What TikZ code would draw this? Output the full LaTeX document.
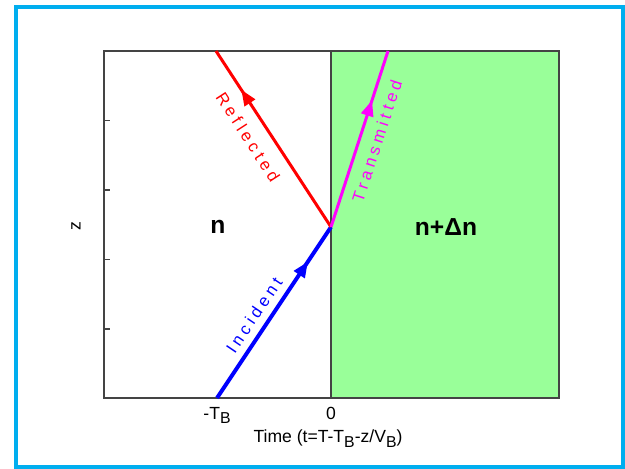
\documentclass[tikz,border=0pt]{standalone}
\usepackage{fontspec}
\setmainfont{Liberation Sans}
\newfontfamily\rayfont[LetterSpace=24]{Liberation Sans}
\usetikzlibrary{arrows.meta, decorations.markings}
\definecolor{clrFrame}{HTML}{00AEEF}
\definecolor{clrSlab}{HTML}{99FF99}
\definecolor{clrAxis}{HTML}{444444}
\definecolor{clrInc}{HTML}{0000FF}
\definecolor{clrRef}{HTML}{FF0000}
\definecolor{clrTra}{HTML}{FF00FF}
\newcommand{\lowsub}[1]{\raisebox{-0.45ex}{\small #1}}

\begin{document}
\begin{tikzpicture}[
    x=0.02cm, y=-0.02cm,
    axis/.style={draw=clrAxis, line width=1.1pt},
    midarrow/.style={postaction={decorate, decoration={markings,
        mark=at position #1 with {\arrow{Triangle[length=9pt, width=7pt]}}}}},
    ray/.style={line width=#1, line cap=butt},
    raylbl/.style={font=\rayfont\fontsize{9.5}{11}\selectfont, inner sep=0pt},
    region/.style={font=\fontsize{14}{16}\selectfont\bfseries},
    tick/.style={font=\fontsize{10}{12}\selectfont, anchor=north},
]
\useasboundingbox (0,0) rectangle (625,469);

% === Frame ===
\draw[clrFrame, line width=0.08cm] (16,7) rectangle (623,467);

% === Plot area ===
\coordinate (bl) at (104,398);
\coordinate (tr) at (559,51);
\coordinate (zb) at (331,398);
\coordinate (zt) at (331,51);
\fill[clrSlab] (zb) rectangle (tr);
\draw[axis] (bl) rectangle (tr);
\draw[axis] (zb) -- (zt);
\foreach \yy in {120.5, 190, 259.5, 329}
    \draw[axis, line width=0.8pt] (104,\yy) -- (110,\yy);

% === Rays ===
\coordinate (O) at (331,227);
\coordinate (tb) at (217,398);
\coordinate (rtop) at (216,51);
\coordinate (ttop) at (388,51);
\draw[ray=0.08cm, clrInc, midarrow=0.8] (tb) -- (O);
\draw[ray=0.06cm, clrRef, midarrow=0.78] (O) -- (rtop);
\draw[ray=0.06cm, clrTra, midarrow=0.72] (O) -- (ttop);

\node[raylbl, text=clrInc, rotate=56] (inclbl) at (254,315) {Incident};
\node[raylbl, text=clrRef, rotate=-57] (reflbl) at (248,137) {Reflected};
\node[raylbl, text=clrTra, rotate=72] (tralbl) at (377,141) {Transmitted};

% === Regions ===
\node[region] (nleft) at (218,227) {n};
\node[region] (nright) at (446,227) {n+Δn};

% === Axis labels ===
\node[tick] (tbl) at (217,401) {-T\lowsub{B}};
\node[tick] (zero) at (331,401) {0};
\node[tick] (xlbl) at (328,424) {Time (t=T-T\lowsub{B}-z/V\lowsub{B})};
\node[font=\fontsize{10}{12}\selectfont, rotate=90] (zlbl) at (76,226) {z};

\end{tikzpicture}
\end{document}
